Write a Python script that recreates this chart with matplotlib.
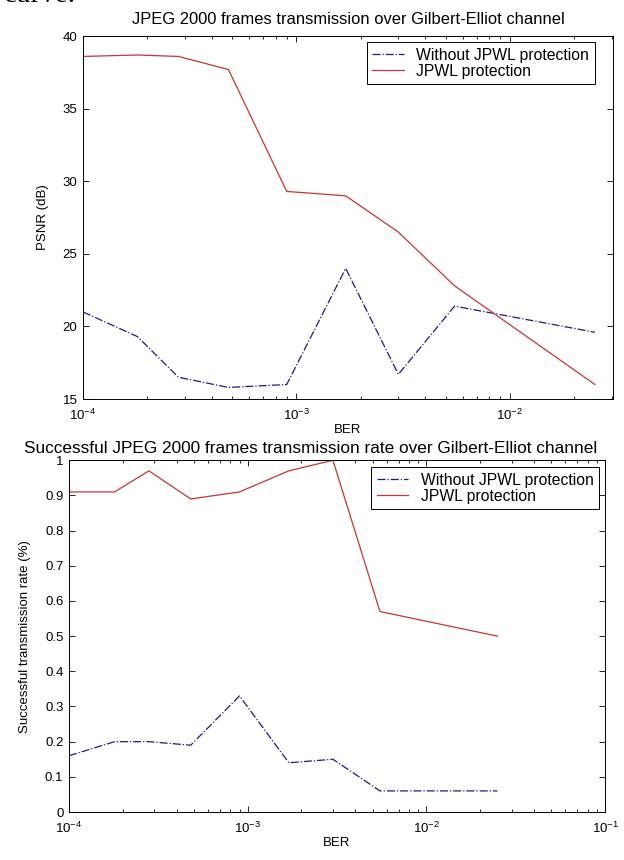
import matplotlib
matplotlib.use('Agg')
import matplotlib.pyplot as plt
from matplotlib.ticker import LogLocator, NullFormatter

plt.rcParams['font.family'] = ['Liberation Sans', 'DejaVu Sans']
plt.rcParams['font.size'] = 9.5

# BER values (same for every curve)
ber = [1e-4, 1.8e-4, 2.8e-4, 4.8e-4, 9e-4, 1.7e-3, 3e-3, 5.5e-3, 2.5e-2]

# PSNR (dB)
psnr_nojpwl = [21.0, 19.3, 16.5, 15.8, 16.0, 24.0, 16.7, 21.4, 19.6]
psnr_jpwl = [38.6, 38.7, 38.6, 37.7, 29.3, 29.0, 26.5, 22.8, 16.0]

# successful transmission rate
rate_nojpwl = [0.16, 0.20, 0.20, 0.19, 0.33, 0.14, 0.15, 0.06, 0.06]
rate_jpwl = [0.91, 0.91, 0.97, 0.89, 0.91, 0.97, 1.0, 0.57, 0.50]

labels = ['Without JPWL protection', 'JPWL protection']
blue = '#1a1a8c'
red = '#cc3333'

fig = plt.figure(figsize=(6.24, 8.6), dpi=100)

# bit of page text that was cut off in the screenshot
fig.text(0.006, 1.006, 'curve.', family='Liberation Serif', fontsize=21, va='center', ha='left')


def style(ax):
    ax.tick_params(which='both', direction='in', top=True, right=True, width=0.6)
    ax.tick_params(which='major', length=4, pad=4)
    ax.tick_params(which='minor', length=2.5)
    ax.tick_params(axis='x', which='major', pad=6)
    ax.xaxis.set_minor_locator(LogLocator(base=10, subs=range(2, 10)))
    ax.xaxis.set_minor_formatter(NullFormatter())
    for s in ax.spines.values():
        s.set_linewidth(0.7)


def add_legend(ax, right, top):
    leg = ax.legend(loc='upper right', bbox_to_anchor=(right, top), borderaxespad=0,
                    fancybox=False, framealpha=1, edgecolor='black', borderpad=0.35,
                    handlelength=2.0, labelspacing=0.05, fontsize=11.3)
    leg.get_frame().set_linewidth(0.7)


# top plot
ax1 = fig.add_axes([0.133, 0.536, 0.849, 0.422])
ax1.semilogx(ber, psnr_nojpwl, '-.', color=blue, lw=0.9, label=labels[0])
ax1.semilogx(ber, psnr_jpwl, '-', color=red, lw=0.9, label=labels[1])
ax1.set_xlim(1e-4, 3.03e-2)
ax1.set_ylim(15, 40)
ax1.set_yticks([15, 20, 25, 30, 35, 40])
ax1.set_xlabel('BER', labelpad=1)
ax1.set_ylabel('PSNR (dB)', labelpad=10)
ax1.set_title('JPEG 2000 frames transmission over Gilbert-Elliot channel', fontsize=11.9, pad=9)
style(ax1)
add_legend(ax1, 0.966, 0.983)

# bottom plot
ax2 = fig.add_axes([0.1106, 0.0558, 0.859, 0.409])
ax2.semilogx(ber, rate_nojpwl, '-.', color=blue, lw=0.9, label=labels[0])
ax2.semilogx(ber, rate_jpwl, '-', color=red, lw=0.9, label=labels[1])
ax2.set_xlim(1e-4, 1e-1)
ax2.set_ylim(0, 1)
ax2.set_yticks([0, 0.1, 0.2, 0.3, 0.4, 0.5, 0.6, 0.7, 0.8, 0.9, 1])
ax2.set_yticklabels(['0', '0.1', '0.2', '0.3', '0.4', '0.5', '0.6', '0.7', '0.8', '0.9', '1'])
ax2.set_xlabel('BER', labelpad=1)
ax2.set_ylabel('Successful transmission rate (%)', labelpad=10)
ax2.set_title('Successful JPEG 2000 frames transmission rate over Gilbert-Elliot channel',
              fontsize=12.4, pad=5, x=0.45)
style(ax2)
add_legend(ax2, 0.989, 0.98)

fig.savefig('out.png', dpi=100)
